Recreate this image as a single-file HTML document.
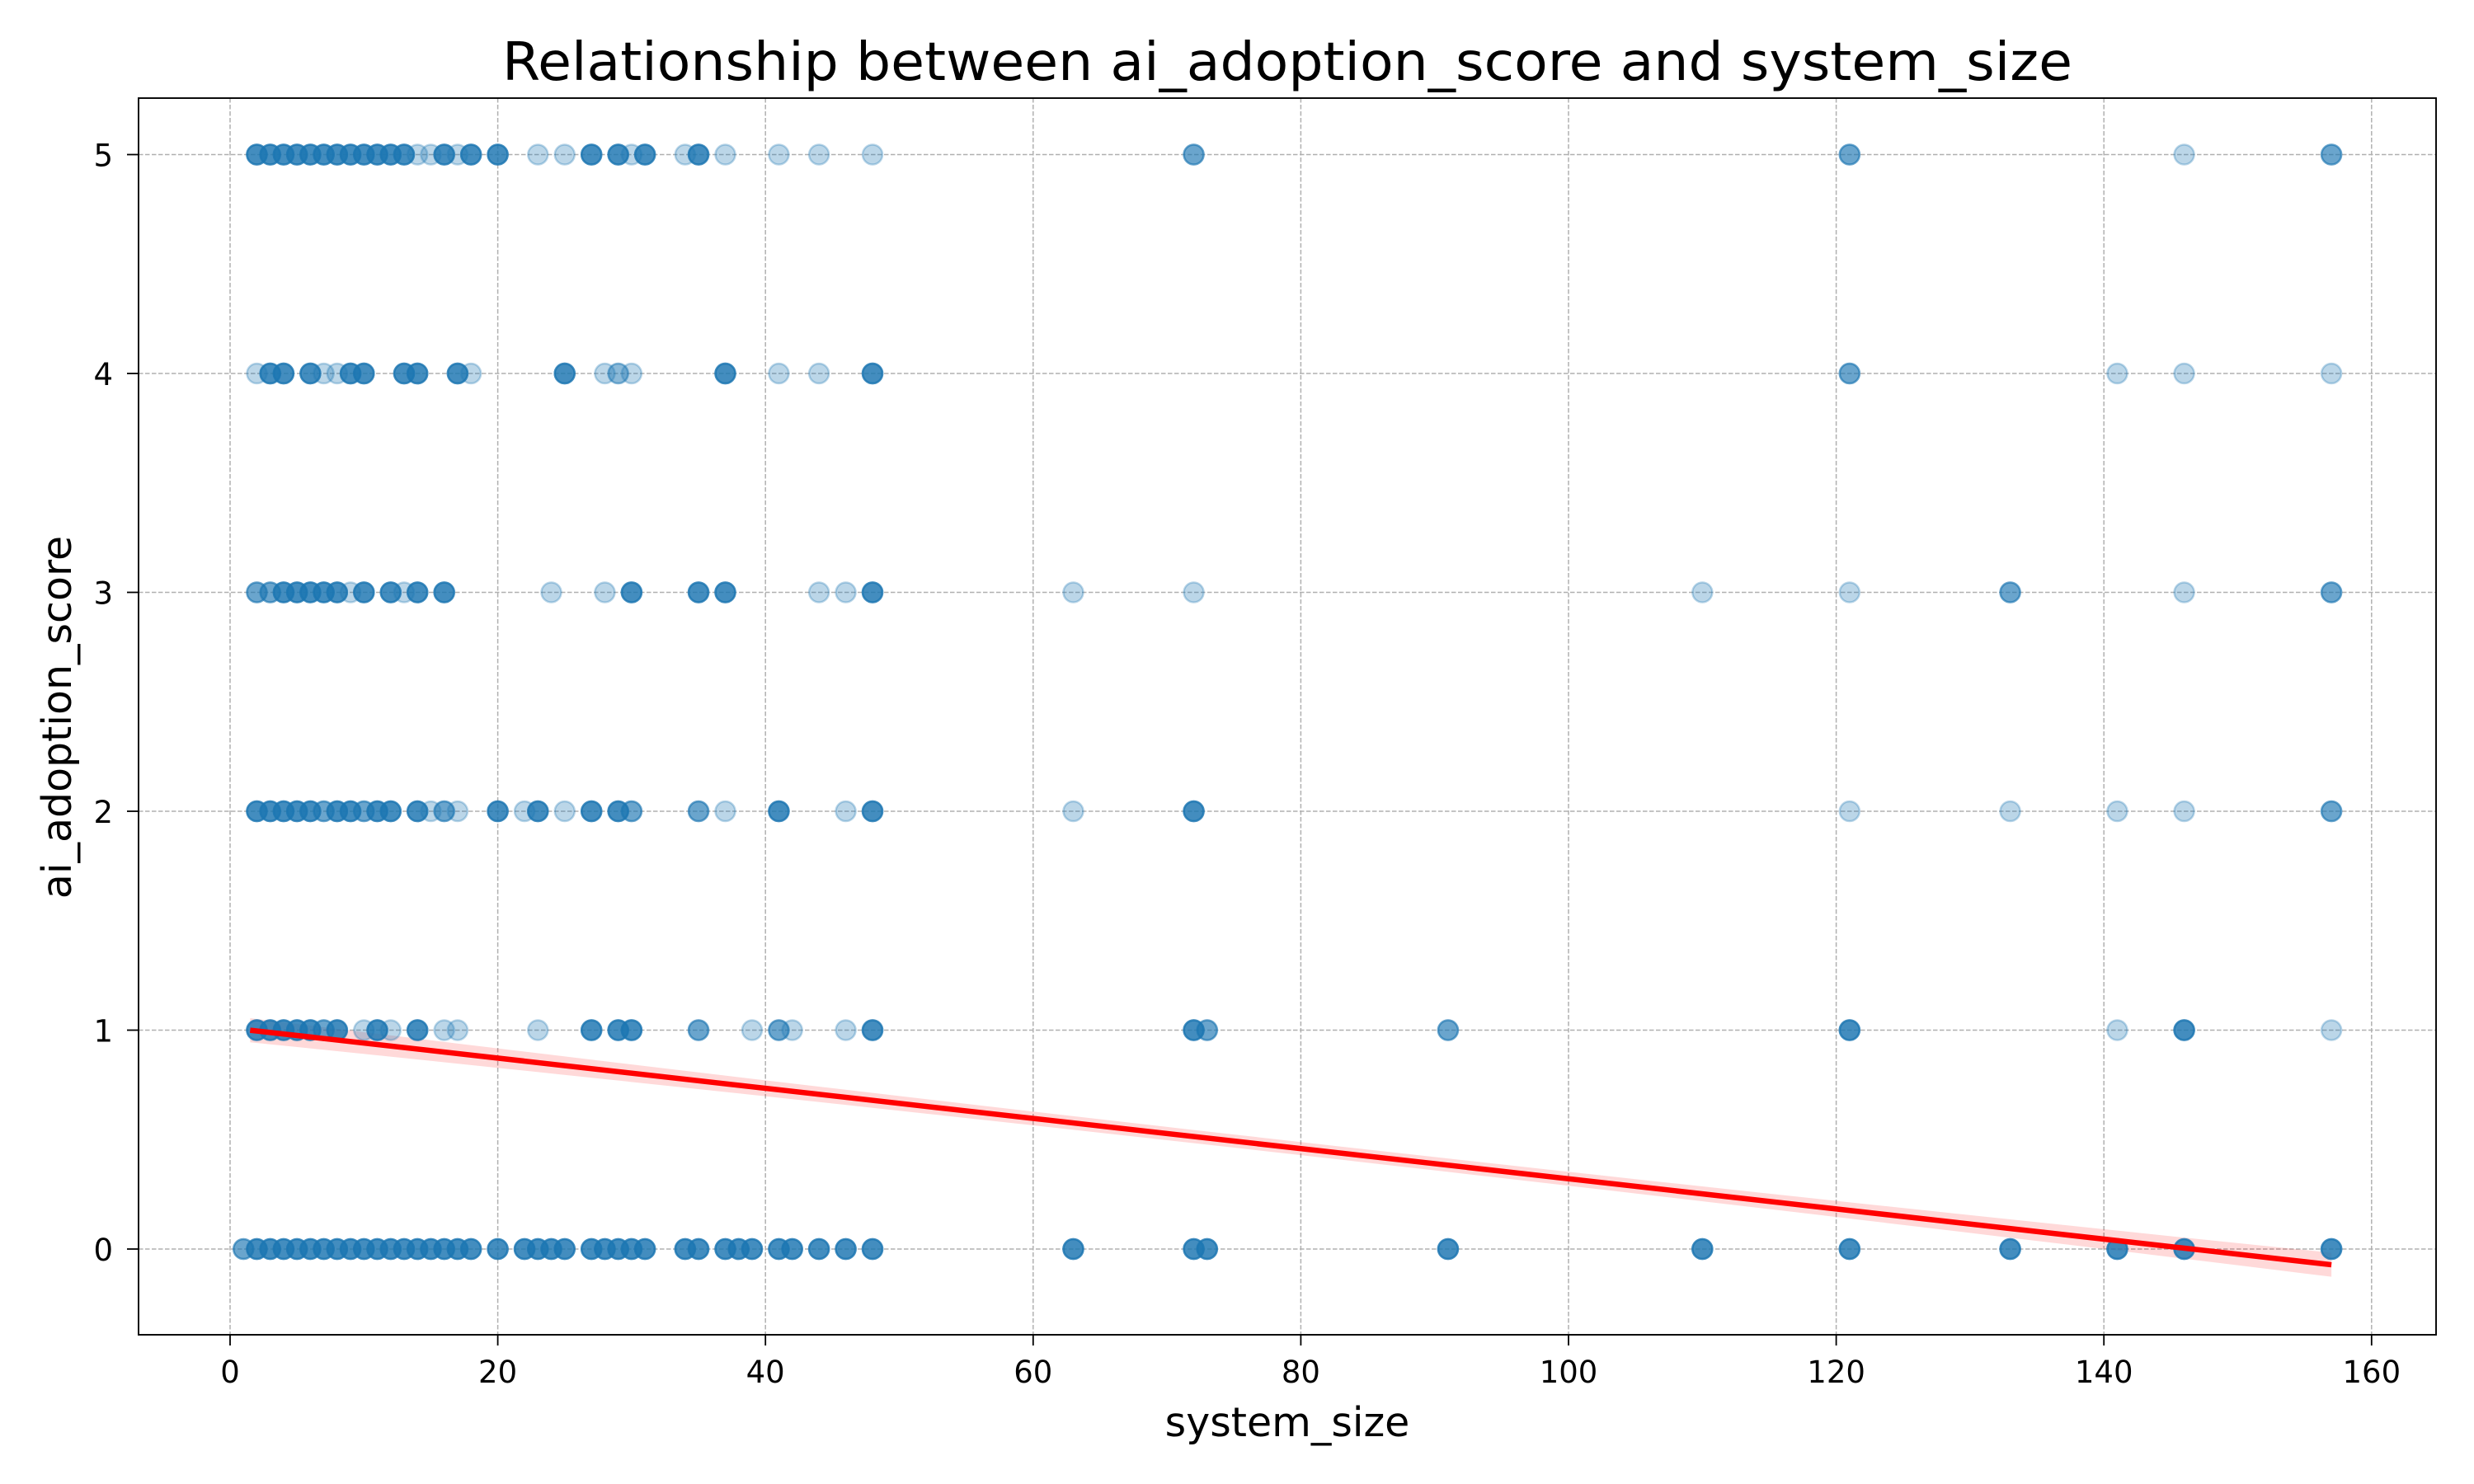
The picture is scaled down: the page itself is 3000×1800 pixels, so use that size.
<!DOCTYPE html>
<html><head><meta charset="utf-8"><style>
html,body{margin:0;padding:0;background:#fff;}
svg{display:block;font-family:"DejaVu Sans","Liberation Sans",sans-serif;}
</style></head><body>
<svg id="chart" width="3000" height="1800" viewBox="0 0 3000 1800">
<rect x="0" y="0" width="3000" height="1800" fill="#fff"/>
<g id="grid"></g>
<g id="band"></g>
<g id="pts"></g>
<g id="reg"></g>
<rect x="168" y="119" width="2786" height="1500" fill="none" stroke="#000" stroke-width="1.9"/>
<g id="ticks"></g>
<text x="1561" y="97" font-size="64" text-anchor="middle" textLength="1904" lengthAdjust="spacingAndGlyphs">Relationship between ai_adoption_score and system_size</text>
<text x="1561" y="1742" font-size="49" text-anchor="middle">system_size</text>
<text x="0" y="0" font-size="49" text-anchor="middle" transform="translate(86,870) rotate(-90)">ai_adoption_score</text>
</svg>
<script>
const xTicks=[0,20,40,60,80,100,120,140,160];
const yTicks=[0,1,2,3,4,5];
// points per score level: [system_size, overlap count]
const row5=[[2,5],[3,5],[4,5],[5,5],[6,5],[7,5],[8,5],[9,5],[10,5],[11,5],[12,5],[13,5],[14,1],[15,1],[16,5],[17,1],[18,5],[20,5],[23,1],[25,1],[27,5],[29,5],[30,1],[31,5],[34,1],[35,5],[37,1],[41,1],[44,1],[48,1],[72,3],[121,3],[146,1],[157,3]];
const row4=[[2,1],[3,5],[4,5],[6,5],[7,1],[8,1],[9,5],[10,5],[13,5],[14,5],[17,5],[18,1],[25,5],[28,1],[29,2],[30,1],[37,5],[41,1],[44,1],[48,5],[121,3],[141,1],[146,1],[157,1]];
const row3=[[2,3],[3,3],[4,5],[5,5],[6,5],[7,5],[8,5],[9,1],[10,5],[12,5],[13,1],[14,5],[16,5],[24,1],[28,1],[30,5],[35,5],[37,5],[44,1],[46,1],[48,5],[63,1],[72,1],[110,1],[121,1],[133,3],[146,1],[157,3]];
const row2=[[2,5],[3,5],[4,5],[5,5],[6,5],[7,3],[8,5],[9,5],[10,3],[11,5],[12,5],[14,5],[15,1],[16,3],[17,1],[20,5],[22,1],[23,5],[25,1],[27,5],[29,5],[30,3],[35,3],[37,1],[41,5],[46,1],[48,5],[63,1],[72,5],[121,1],[133,1],[141,1],[146,1],[157,3]];
const row1=[[2,5],[3,5],[4,5],[5,5],[6,5],[7,3],[8,5],[10,1],[11,5],[12,1],[14,5],[16,1],[17,1],[23,1],[27,5],[29,5],[30,5],[35,3],[39,1],[41,3],[42,1],[46,1],[48,5],[72,5],[73,3],[91,3],[121,5],[141,1],[146,5],[157,1]];
const row0=[[1,3],[2,5],[3,5],[4,5],[5,5],[6,5],[7,5],[8,5],[9,5],[10,5],[11,5],[12,5],[13,5],[14,5],[15,5],[16,5],[17,5],[18,5],[20,5],[22,5],[23,5],[24,5],[25,5],[27,5],[28,5],[29,5],[30,5],[31,5],[34,5],[35,5],[37,5],[38,5],[39,5],[41,5],[42,5],[44,5],[46,5],[48,5],[63,5],[72,5],[73,5],[91,5],[110,5],[121,5],[133,5],[141,5],[146,5],[157,5]];
const rows=[row0,row1,row2,row3,row4,row5];
const regX=[1.5,157];
const regIntercept=1.01;
const regSlope=-0.00689;
const ciHalfMid=0.03, ciHalfHi=0.055;

const X0=279,XS=16.23,Y0=1515,YS=265.5;
const sx=v=>X0+v*XS, sy=v=>Y0-v*YS;
const NS='http://www.w3.org/2000/svg';
function mk(tag,attrs,parent){const e=document.createElementNS(NS,tag);for(const k in attrs)e.setAttribute(k,attrs[k]);parent.appendChild(e);return e;}
const grid=document.getElementById('grid'),ticks=document.getElementById('ticks');
xTicks.forEach(t=>{
  const g=mk('line',{x1:sx(t),x2:sx(t),y1:119,y2:1619,stroke:'#b0b0b0','stroke-width':1.5,'stroke-dasharray':'5.5,2.5'},grid);
  
  
  const tk=mk('line',{x1:sx(t),x2:sx(t),y1:1619,y2:1632,stroke:'#000','stroke-width':1.8},ticks);
  
  
  const tl=mk('text',{x:sx(t),y:1677,'font-size':37,'text-anchor':'middle'},ticks);
  tl.textContent=t;
  
  
});
yTicks.forEach(t=>{
  const g=mk('line',{x1:168,x2:2954,y1:sy(t),y2:sy(t),stroke:'#b0b0b0','stroke-width':1.5,'stroke-dasharray':'5.5,2.5'},grid);
  
  
  const tk=mk('line',{x1:154,x2:168,y1:sy(t),y2:sy(t),stroke:'#000','stroke-width':1.8},ticks);
  
  
  const tl=mk('text',{x:137,y:sy(t)+14,'font-size':37,'text-anchor':'end'},ticks);
  tl.textContent=t;
  
  
});
const pts=document.getElementById('pts');
rows.forEach((row,yv)=>{
  row.forEach(([xv,n])=>{
    for(let i=0;i<n;i++){
      const c=mk('circle',{cx:sx(xv),cy:sy(yv),r:12,fill:'#1f77b4','fill-opacity':0.3,stroke:'#1f77b4','stroke-opacity':0.3,'stroke-width':2.5},pts);
      
      
    }
  });
});
const f=x=>regIntercept+regSlope*x;
const xm=(regX[0]+regX[1])/2;
const band=document.getElementById('band');
const N=40;let up=[],lo=[];
for(let i=0;i<=N;i++){const x=regX[0]+(regX[1]-regX[0])*i/N;const d=Math.abs(x-xm)/(regX[1]-xm);const h=ciHalfMid+(ciHalfHi-ciHalfMid)*d*d;up.push(sx(x)+','+sy(f(x)+h));lo.unshift(sx(x)+','+sy(f(x)-h));}
const poly=mk('polygon',{points:up.concat(lo).join(' '),fill:'#ff0000','fill-opacity':0.15},band);


const reg=document.getElementById('reg');
const ln=mk('line',{x1:sx(regX[0]),y1:sy(f(regX[0])),x2:sx(regX[1]),y2:sy(f(regX[1])),stroke:'#ff0000','stroke-width':6.5},reg);


</script>
</body></html>
